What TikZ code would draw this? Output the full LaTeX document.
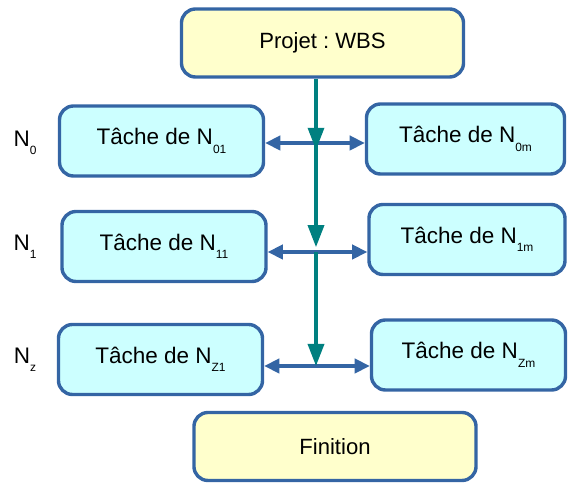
\documentclass[tikz,border=0pt]{standalone}
\usepackage{fontspec}
\setmainfont{Liberation Sans}
\usetikzlibrary{arrows.meta, positioning, calc}
\definecolor{boxblue}{HTML}{3465A4}
\definecolor{taskcyan}{HTML}{CCFFFF}
\definecolor{headyellow}{HTML}{FFFFCC}
\definecolor{flowteal}{HTML}{008080}
\frenchspacing
\newcommand{\lowsub}[1]{\raisebox{-6pt}{\fontsize{8.5pt}{9pt}\selectfont #1}}
\tikzstyle{head} = [rectangle, rounded corners=0.35cm, minimum width=7.05cm, minimum height=1.7cm, text centered, draw=boxblue, line width=0.085cm, fill=headyellow, font=\fontsize{15.7pt}{18pt}\selectfont]
\tikzstyle{task} = [rectangle, rounded corners=0.35cm, minimum width=5.1cm, minimum height=1.75cm, text centered, draw=boxblue, line width=0.085cm, fill=taskcyan, font=\fontsize{16pt}{18pt}\selectfont]
\tikzstyle{level} = [font=\fontsize{16pt}{18pt}\selectfont]
\tikzstyle{flow} = [draw=flowteal, line width=0.085cm, -{Triangle[length=0.55cm, width=0.4cm]}]
\tikzstyle{link} = [draw=boxblue, line width=0.085cm, {Triangle[length=0.38cm, width=0.36cm]}-{Triangle[length=0.38cm, width=0.36cm]}]
\begin{document}
\begin{tikzpicture}[x=0.025cm, y=-0.025cm]
\useasboundingbox (0,0) rectangle (568,484);

\node (proj) [head] at (322.5,43) {Projet : WBS};

\node (t01) [task] at (161.5,141) {Tâche de N\lowsub{01}};
\node (t0m) [task, minimum width=4.95cm] at (465.5,139) {Tâche de N\lowsub{0m}};

\node (t11) [task] at (164,246.5) {Tâche de N\lowsub{11}};
\node (t1m) [task, minimum width=4.9cm] at (467,239.5) {Tâche de N\lowsub{1m}};

\node (tz1) [task] at (160.5,359.5) {Tâche de N\lowsub{Z1}};
\node (tzm) [task, minimum width=4.85cm] at (468.5,355) {Tâche de N\lowsub{Zm}};

\node (fin) [head] at (335,446.5) {Finition};

\node (n0) [level] at (25,143) {N\lowsub{0}};
\node (n1) [level] at (25,247) {N\lowsub{1}};
\node (nz) [level] at (25,360) {N\lowsub{z}};

\coordinate (j0) at (316,143);
\coordinate (j1) at (316,252);
\coordinate (j2) at (316,366);

\draw [link] (j0 -| t01.east) -- (j0 -| t0m.west);
\draw [link] (j1 -| t11.east) -- (j1 -| t1m.west);
\draw [link] (j2 -| tz1.east) -- (j2 -| tzm.west);

\draw [flow, shorten >=-0.17cm] (proj.south -| j0) -- (j0);
\draw [flow, shorten >=0.12cm] (j0) -- (j1);
\draw [flow] (j1) -- (j2);
\end{tikzpicture}
\end{document}
